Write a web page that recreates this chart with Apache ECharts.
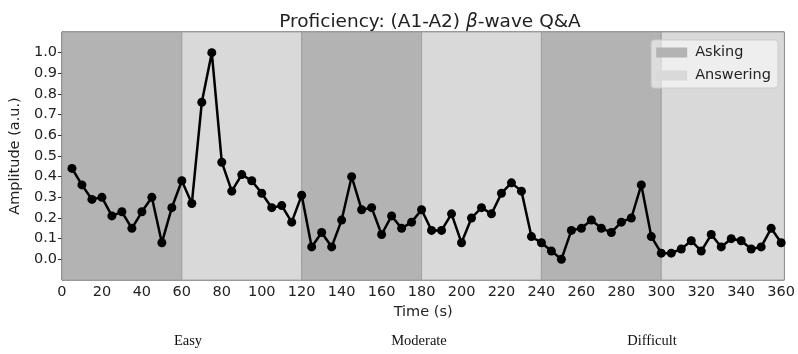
<!DOCTYPE html>
<html><head><meta charset="utf-8">
<script src="https://cdn.jsdelivr.net/npm/echarts@6/dist/echarts.min.js"></script>
<style>html,body{margin:0;padding:0;background:#fff}#c{width:798px;height:354px}</style>
</head><body><div id="c"></div>
<script>
const times = [5,10,15,20,25,30,35,40,45,50,55,60,65,70,75,80,85,90,95,100,105,110,115,120,125,130,135,140,145,150,155,160,165,170,175,180,185,190,195,200,205,210,215,220,225,230,235,240,245,250,255,260,265,270,275,280,285,290,295,300,305,310,315,320,325,330,335,340,345,350,355,360];
const amplitude = [0.44,0.36,0.29,0.30,0.21,0.23,0.15,0.23,0.30,0.08,0.25,0.38,0.27,0.76,1.00,0.47,0.33,0.41,0.38,0.32,0.25,0.26,0.18,0.31,0.06,0.13,0.06,0.19,0.40,0.24,0.25,0.12,0.21,0.15,0.18,0.24,0.14,0.14,0.22,0.08,0.20,0.25,0.22,0.32,0.37,0.33,0.11,0.08,0.04,0.00,0.14,0.15,0.19,0.15,0.13,0.18,0.20,0.36,0.11,0.03,0.03,0.05,0.09,0.04,0.12,0.06,0.10,0.09,0.05,0.06,0.15,0.08];
const phases = [
  {name:'Asking', from:0, to:60},
  {name:'Answering', from:60, to:120},
  {name:'Asking', from:120, to:180},
  {name:'Answering', from:180, to:240},
  {name:'Asking', from:240, to:300},
  {name:'Answering', from:300, to:361.6}
];
const xTicks = [0,20,40,60,80,100,120,140,160,180,200,220,240,260,280,300,320,340,360];
const yTicks = [0,0.1,0.2,0.3,0.4,0.5,0.6,0.7,0.8,0.9,1.0];
const difficultyLabels = ['Easy','Moderate','Difficult'];

const colors = {Asking:'#b3b3b3', Answering:'#d9d9d9'};
const chart = echarts.init(document.getElementById('c'));
const gridL = 61, gridR = 12, gridT = 32, gridB = 74;
const xMax = 361.6;
const labelX = [188, 419, 652];
const FS = 14.5;

chart.setOption({
  animation:false,
  backgroundColor:'#ffffff',
  title:{
    text:'{a|Proficiency: (A1-A2) }{b|β}{a|-wave Q&A}',
    left: 425, textAlign:'center', top:8,
    textStyle:{fontWeight:'normal', rich:{
      a:{fontFamily:'DejaVu Sans', fontSize:18.5, fontWeight:'normal', color:'#222'},
      b:{fontFamily:'DejaVu Sans', fontSize:18.5, fontWeight:'normal', fontStyle:'italic', color:'#222'}
    }}
  },
  legend:{
    right:20, top:40, orient:'vertical',
    data:['Asking','Answering'],
    icon:'rect', itemWidth:31, itemHeight:10, itemGap:8,
    backgroundColor:'rgba(255,255,255,0.55)', borderColor:'#cccccc', borderWidth:1, borderRadius:3,
    padding:[5,7,5,5],
    textStyle:{fontFamily:'DejaVu Sans', fontSize:FS, color:'#222', padding:[0,0,0,3]}
  },
  grid:{left:gridL, right:gridR, top:gridT, bottom:gridB, show:true, borderColor:'#333', borderWidth:1, backgroundColor:'transparent'},
  xAxis:{
    type:'value', min:0, max:xMax, interval:20,
    name:'Time (s)', nameLocation:'middle', nameGap:20,
    nameTextStyle:{fontFamily:'DejaVu Sans', fontSize:FS, color:'#222'},
    axisLine:{show:true, lineStyle:{color:'#333'}},
    axisTick:{show:true, length:4, lineStyle:{color:'#333'}, customValues:xTicks},
    axisLabel:{fontFamily:'DejaVu Sans', fontSize:FS, color:'#222', margin:5, customValues:xTicks},
    splitLine:{show:false}
  },
  yAxis:{
    type:'value', min:-0.1, max:1.1, interval:0.1,
    name:'Amplitude (a.u.)', nameLocation:'middle', nameGap:35,
    nameTextStyle:{fontFamily:'DejaVu Sans', fontSize:FS, color:'#222'},
    axisLine:{show:true, lineStyle:{color:'#333'}},
    axisTick:{show:true, length:4, lineStyle:{color:'#333'}, customValues:yTicks},
    axisLabel:{fontFamily:'DejaVu Sans', fontSize:FS, color:'#222', margin:5, customValues:yTicks,
      formatter:v=>Number(v).toFixed(1)},
    splitLine:{show:false}
  },
  series:[
    {name:'Asking', type:'line', data:[], itemStyle:{color:colors.Asking}, lineStyle:{color:colors.Asking}},
    {name:'Answering', type:'line', data:[], itemStyle:{color:colors.Answering}, lineStyle:{color:colors.Answering}},
    {
      name:'phases', type:'line', data:[], silent:true,
      markArea:{silent:true, data: phases.map(p=>[
        {xAxis:p.from, itemStyle:{color:colors[p.name], borderColor:'#9a9a9a', borderWidth:0.8}},
        {xAxis:p.to}
      ])}
    },
    {
      name:'amp', type:'line', z:5,
      data: times.map((t,i)=>[t, amplitude[i]]),
      symbol:'circle', symbolSize:9, showSymbol:true,
      lineStyle:{color:'#000', width:2.5},
      itemStyle:{color:'#000'}
    }
  ],
  graphic: difficultyLabels.map((d,i)=>({
    type:'text',
    x: labelX[i],
    y: 341,
    style:{text:d, font:'14.5px "Liberation Serif"', fill:'#111', align:'center', verticalAlign:'middle'}
  }))
});
</script>
</body></html>
